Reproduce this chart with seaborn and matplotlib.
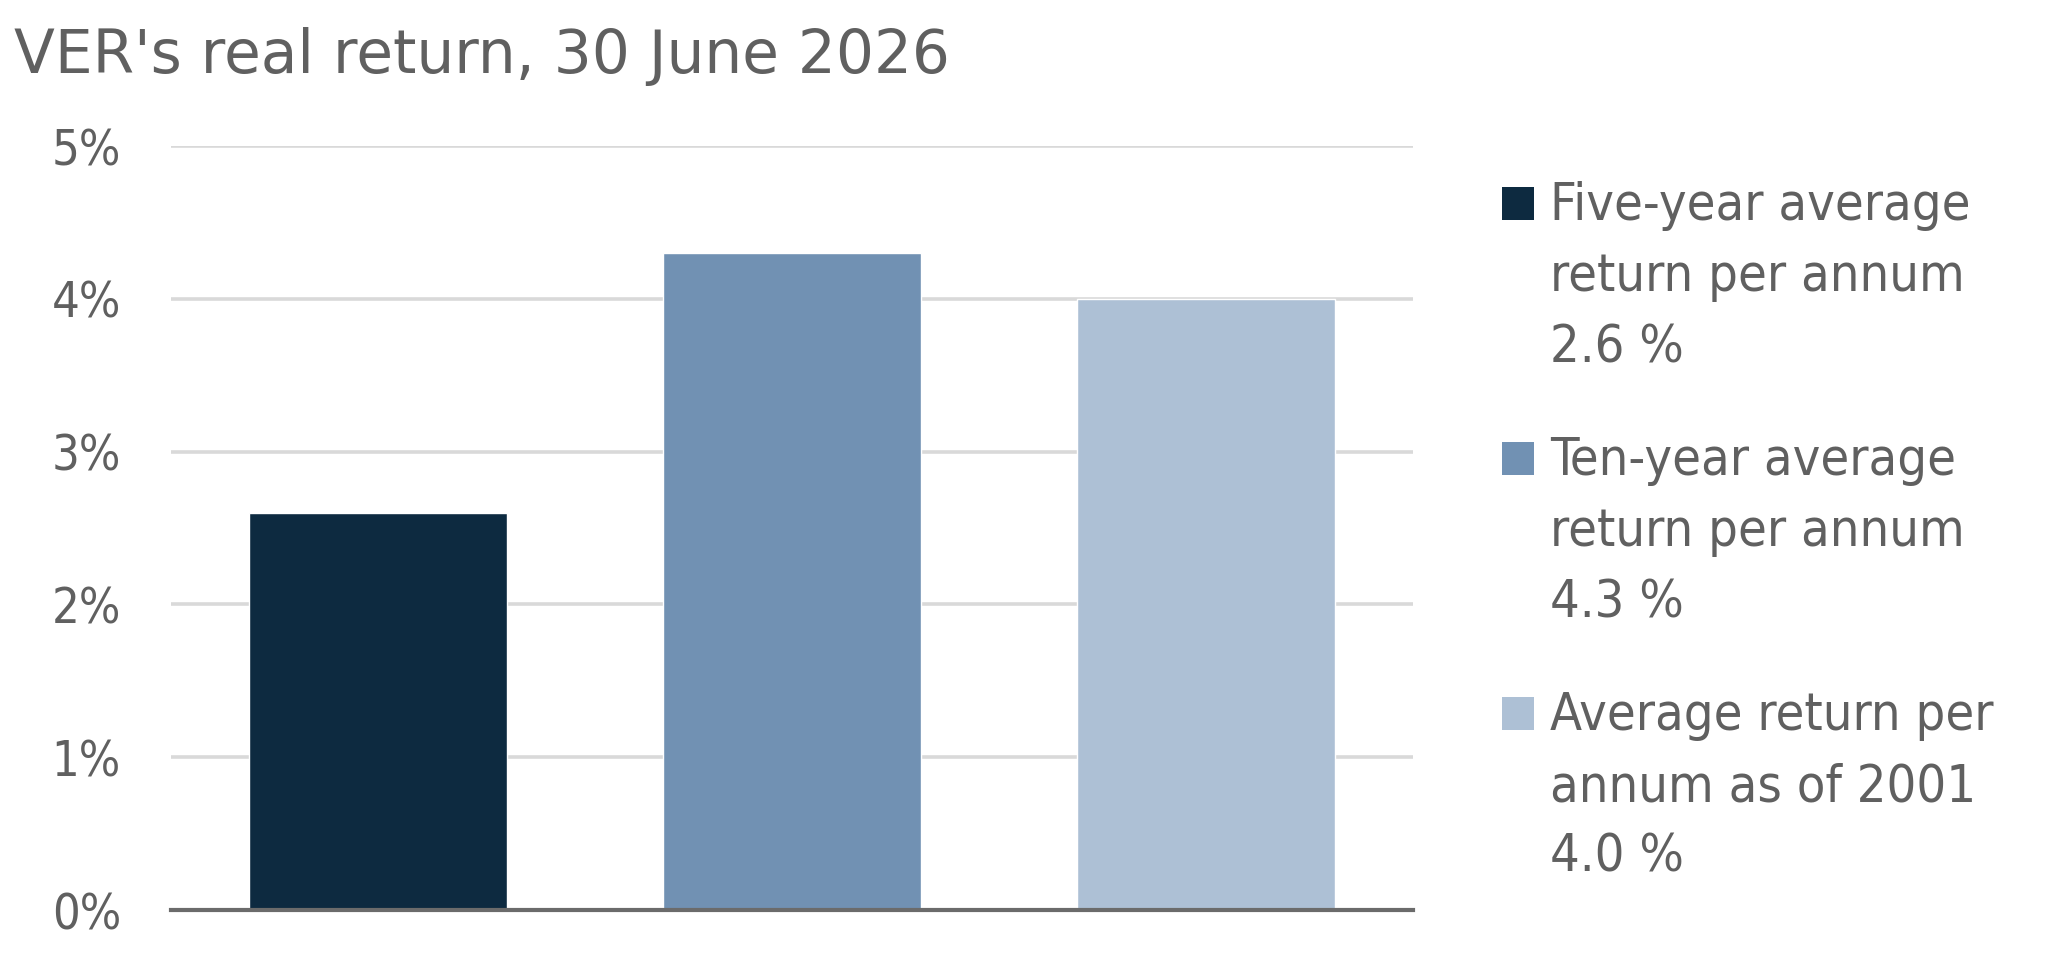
import matplotlib
matplotlib.use("Agg")
import matplotlib.pyplot as plt
from matplotlib.patches import Rectangle
import seaborn as sns

# data
categories = ["Five-year", "Ten-year", "Since 2001"]
returns = [2.6, 4.3, 4.0]
bar_colors = ["#0d2a40", "#7191b3", "#adc0d5"]
y_ticks = [0, 1, 2, 3, 4, 5]
y_tick_labels = ["0%", "1%", "2%", "3%", "4%", "5%"]
legend_lines = [
    ["Five-year average", "return per annum", "2.6 %"],
    ["Ten-year average", "return per annum", "4.3 %"],
    ["Average return per", "annum as of 2001", "4.0 %"],
]
title = "VER's real return, 30 June 2026"

TEXT = "#606060"

sns.set_style("white")
plt.rcParams["font.family"] = ["DejaVu Sans"]
plt.rcParams["font.stretch"] = "condensed"

fig = plt.figure(figsize=(20.56, 9.66), dpi=100)
ax = fig.add_axes([171 / 2056, 1 - 910 / 966, (1413 - 171) / 2056, (910 - 146) / 966])

sns.barplot(x=categories, y=returns, hue=categories, palette=bar_colors,
            width=0.623, saturation=1, legend=False, ax=ax)

ax.set_xlim(-0.5, 2.5)
ax.set_ylim(0, 5)
ax.set_yticks(y_ticks)
ax.set_yticklabels(y_tick_labels)
ax.set_xticks([])
ax.set_xlabel("")
ax.set_ylabel("")
ax.tick_params(axis="y", length=0, pad=36, labelsize=35, labelcolor=TEXT)
ax.yaxis.grid(True, color="#d9d9d9", linewidth=2.6)
ax.set_axisbelow(True)
for side in ["left", "right", "top"]:
    ax.spines[side].set_visible(False)
ax.spines["bottom"].set_color("#6b6b6b")
ax.spines["bottom"].set_linewidth(3)

fig.text(14 / 2056, 1 - 73 / 966, title, fontsize=43, fontstretch="normal",
         color=TEXT, ha="left", va="baseline")

# legend drawn by hand so the square sits on the first line
first_baselines = [220, 475, 730]
line_step = 71
for color, lines, base in zip(bar_colors, legend_lines, first_baselines):
    fig.patches.append(Rectangle((1502 / 2056, 1 - base / 966),
                                 32 / 2056, 33 / 966, transform=fig.transFigure,
                                 facecolor=color, edgecolor="none"))
    for k, line in enumerate(lines):
        fig.text(1550 / 2056, 1 - (base + k * line_step) / 966, line,
                 fontsize=37.5, color=TEXT, ha="left", va="baseline")

fig.savefig("out.png", dpi=100, facecolor="white")
